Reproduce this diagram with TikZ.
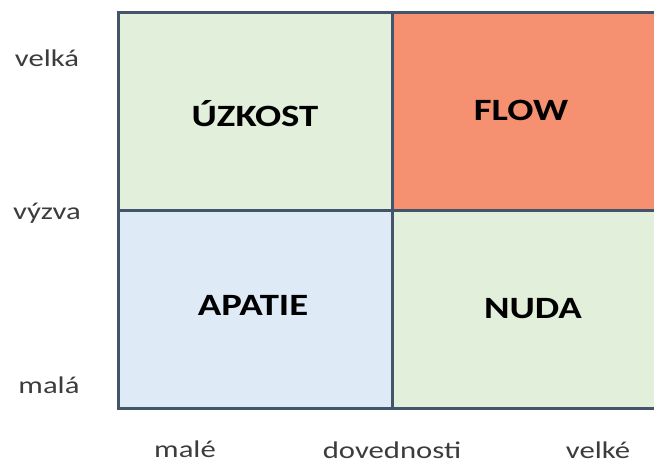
\documentclass[tikz,border=0pt]{standalone}
\usepackage{fontspec}
\setmainfont{Carlito}
\definecolor{gridline}{RGB}{68,84,106}
\definecolor{greenfill}{RGB}{226,239,218}
\definecolor{orangefill}{RGB}{245,144,112}
\definecolor{bluefill}{RGB}{222,234,246}
\definecolor{axistext}{RGB}{60,60,60}
\tikzset{
  cell/.style={draw=gridline, line width=3pt},
  quad/.style={font=\fontsize{31}{36}\selectfont\bfseries, text=black,
    anchor=base, inner sep=0pt, xscale=1.25},
  axislabel/.style={font=\fontsize{24}{28}\selectfont, text=axistext,
    anchor=base, inner sep=0pt, xscale=1.28}
}
\begin{document}
\begin{tikzpicture}[x=1pt, y=-1pt]
  \useasboundingbox (0,0) rectangle (654,462);
  % four quadrants of the challenge/skill matrix
  \fill[greenfill] (118,13) rectangle (392,211);
  \fill[orangefill] (392,13) rectangle (660,211);
  \fill[bluefill] (118,211) rectangle (392,409);
  \fill[greenfill] (392,211) rectangle (660,409);
  \draw[cell] (660,13) -- (118,13) -- (118,409) -- (660,409);
  \draw[cell] (392,13) -- (392,409);
  \draw[cell] (118,211) -- (660,211);
  % quadrant names
  \node[quad] (anx) at (255,127) {ÚZKOST};
  \node[quad] (flow) at (521,121) {FLOW};
  \node[quad] (apa) at (253,316) {APATIE};
  \node[quad] (bor) at (533,319) {NUDA};
  % vertical axis: challenge
  \node[axislabel] (yhi) at (47,67) {velká};
  \node[axislabel] (ymid) at (47,220) {výzva};
  \node[axislabel] (ylo) at (49,394) {malá};
  % horizontal axis: skills
  \node[axislabel] (xlo) at (185,457) {malé};
  \node[axislabel] (xmid) at (392,459) {dovednosti};
  \node[axislabel] (xhi) at (598,459) {velké};
\end{tikzpicture}
\end{document}
